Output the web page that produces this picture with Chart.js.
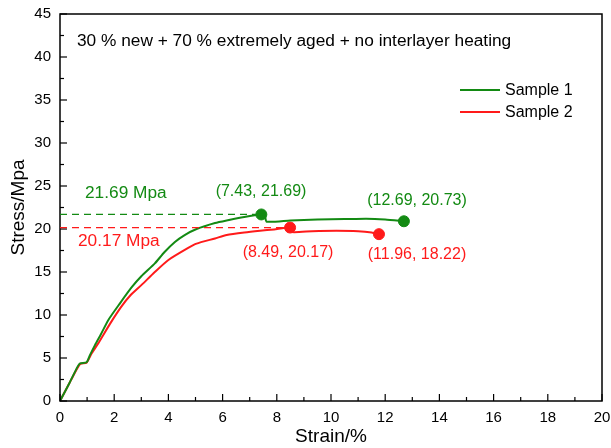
<!DOCTYPE html>
<html><head><meta charset="utf-8">
<script src="https://cdn.jsdelivr.net/npm/chart.js@4/dist/chart.umd.min.js"></script>
<style>html,body{margin:0;padding:0;background:#fff}#wrap{width:611px;height:448px}</style>
</head><body><div id="wrap"><canvas id="c" width="611" height="448"></canvas></div>
<script>
const seriesNames = ["Sample 1", "Sample 2"];
const sample1Strain = [0, 0.35, 0.65, 0.74, 0.98, 1.1, 1.29, 1.5, 1.78, 2.2, 2.64, 3.0, 3.5, 3.85, 4.24, 4.6, 5.04, 5.72, 6.15, 6.8, 7.43, 7.55, 7.63, 8.5, 9.5, 10.5, 11.3, 12.0, 12.69];
const sample1Stress = [0, 2.1, 4.0, 4.38, 4.5, 5.3, 6.5, 7.7, 9.4, 11.3, 13.2, 14.5, 16.0, 17.3, 18.5, 19.3, 20.0, 20.7, 21.0, 21.4, 21.69, 21.6, 20.85, 21.0, 21.1, 21.15, 21.2, 21.1, 20.9];
const sample2Strain = [0, 0.4, 0.74, 0.98, 1.17, 1.41, 1.85, 2.27, 2.6, 3.01, 3.5, 4.0, 4.73, 5.04, 5.72, 6.15, 6.8, 7.38, 7.9, 8.49, 8.55, 9.3, 10.2, 11.0, 11.5, 11.77];
const sample2Stress = [0, 2.4, 4.3, 4.45, 5.55, 6.7, 9.0, 11.0, 12.3, 13.5, 15.0, 16.4, 17.8, 18.3, 18.9, 19.3, 19.6, 19.8, 19.95, 20.17, 19.65, 19.75, 19.8, 19.75, 19.6, 19.4];
const peaks = [{x:7.43, y:21.69}, {x:8.49, y:20.17}];
const ends = [{x:12.69, y:20.9}, {x:11.77, y:19.4}];
const peakLabels = ["21.69 Mpa", "20.17 Mpa"];
const pointLabels = ["(7.43, 21.69)", "(8.49, 20.17)", "(12.69, 20.73)", "(11.96, 18.22)"];
const titleText = "30 % new + 70 % extremely aged + no interlayer heating";
const xTicks = [0,2,4,6,8,10,12,14,16,18,20];
const yTicks = [0,5,10,15,20,25,30,35,40,45];
const colors = ["#138a13", "#ff1a1a"];
const FONT = '"Liberation Sans", Arial, sans-serif';

const toPts = (xs, ys) => xs.map((x,i)=>({x, y: ys[i]}));

const decor = {
  id: 'decor',
  afterDraw(chart) {
    const ctx = chart.ctx, ca = chart.chartArea;
    const xs = chart.scales.x, ys = chart.scales.y;
    ctx.save();
    ctx.strokeStyle = '#000'; ctx.lineWidth = 1.5;
    ctx.strokeRect(ca.left, ca.top, ca.right - ca.left, ca.bottom - ca.top);
    ctx.lineWidth = 1.2;
    for (let v = 0; v <= 20; v += 1) {
      const px = xs.getPixelForValue(v);
      const len = v % 2 === 0 ? 7 : 4;
      ctx.beginPath(); ctx.moveTo(px, ca.bottom); ctx.lineTo(px, ca.bottom - len); ctx.stroke();
    }
    for (let v = 0; v <= 45; v += 2.5) {
      const py = ys.getPixelForValue(v);
      const len = v % 5 === 0 ? 7 : 4;
      ctx.beginPath(); ctx.moveTo(ca.left, py); ctx.lineTo(ca.left + len, py); ctx.stroke();
    }
    ctx.setLineDash([7, 5]); ctx.lineWidth = 1.3;
    peaks.forEach((p, i) => {
      ctx.strokeStyle = colors[i];
      const py = ys.getPixelForValue(p.y);
      ctx.beginPath(); ctx.moveTo(ca.left, py); ctx.lineTo(xs.getPixelForValue(p.x), py); ctx.stroke();
    });
    ctx.setLineDash([]);
    ctx.font = '17.3px ' + FONT;
    ctx.fillStyle = '#000'; ctx.textBaseline = 'middle'; ctx.textAlign = 'left';
    ctx.fillText(titleText, 77, 41);
    ctx.fillStyle = colors[0]; ctx.fillText(peakLabels[0], 85, 193);
    ctx.fillStyle = colors[1]; ctx.fillText(peakLabels[1], 78, 241);
    ctx.font = '16px ' + FONT;
    seriesNames.forEach((n, i) => {
      const y = 90 + i * 22;
      ctx.strokeStyle = colors[i]; ctx.lineWidth = 2;
      ctx.beginPath(); ctx.moveTo(460, y); ctx.lineTo(500, y); ctx.stroke();
      ctx.fillStyle = '#000';
      ctx.fillText(n, 505, y + 1);
    });
    ctx.textAlign = 'center';
    ctx.fillStyle = colors[0];
    ctx.fillText(pointLabels[0], 261, 192);
    ctx.fillText(pointLabels[2], 417, 201);
    ctx.fillStyle = colors[1];
    ctx.fillText(pointLabels[1], 288, 253);
    ctx.fillText(pointLabels[3], 417, 255);
    ctx.restore();
  }
};

new Chart(document.getElementById('c'), {
  type: 'line',
  data: {
    datasets: [
      {label: seriesNames[0], data: toPts(sample1Strain, sample1Stress), borderColor: colors[0], borderWidth: 2, pointRadius: 0, tension: 0.2},
      {label: seriesNames[1], data: toPts(sample2Strain, sample2Stress), borderColor: colors[1], borderWidth: 2, pointRadius: 0, tension: 0.2},
      {data: [peaks[0], ends[0]], showLine: false, pointRadius: 5.5, pointBackgroundColor: colors[0], pointBorderColor: colors[0]},
      {data: [peaks[1], ends[1]], showLine: false, pointRadius: 5.5, pointBackgroundColor: colors[1], pointBorderColor: colors[1]}
    ]
  },
  options: {
    responsive: false, animation: false,
    layout: {padding: {left: 0, right: 0, top: 14, bottom: 0}},
    plugins: {legend: {display: false}, tooltip: {enabled: false}},
    scales: {
      x: {type: 'linear', min: 0, max: 20,
        afterBuildTicks: s => { s.ticks = xTicks.map(v => ({value: v})); },
        afterFit: s => { s.height = 47; s.paddingRight = 9; s.paddingLeft = 0; },
        grid: {display: true, drawOnChartArea: false, drawTicks: false, tickLength: 0},
        border: {display: false},
        ticks: {padding: 8, color: '#000', font: {family: FONT, size: 15}, maxRotation: 0},
        title: {display: true, text: 'Strain/%', color: '#000', font: {family: FONT, size: 19}, padding: {top: 0, bottom: 0}}
      },
      y: {type: 'linear', min: 0, max: 45,
        afterBuildTicks: s => { s.ticks = yTicks.map(v => ({value: v})); },
        afterFit: s => { s.width = 60; s.paddingTop = 0; s.paddingBottom = 0; },
        grid: {display: true, drawOnChartArea: false, drawTicks: false, tickLength: 0},
        border: {display: false},
        ticks: {padding: 9, color: '#000', font: {family: FONT, size: 15}},
        title: {display: true, text: 'Stress/Mpa', color: '#000', font: {family: FONT, size: 19}, padding: {top: 7, bottom: 0}}
      }
    }
  },
  plugins: [decor]
});
</script></body></html>
